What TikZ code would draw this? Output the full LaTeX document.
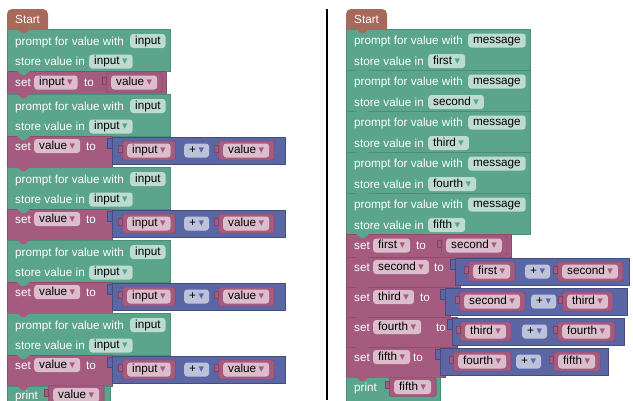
\documentclass[tikz,border=0pt]{standalone}
\usepackage{fontspec}
\setmainfont{Liberation Sans}
\newfontfamily\arrfont{DejaVu Sans}
\usepackage{tikz}
\definecolor{grn}{HTML}{5BA58C}
\definecolor{grnfld}{HTML}{BDDBD1}
\definecolor{mag}{HTML}{A55B80}
\definecolor{magfld}{HTML}{DBBDCC}
\definecolor{blu}{HTML}{5B67A5}
\definecolor{blufld}{HTML}{BDC2DB}
\definecolor{brn}{HTML}{A8685A}
\newcommand{\dd}[1]{\hspace{2.5pt}{\arrfont\fontsize{11}{11}\selectfont\color{#1}▾}}
\newcommand{\notch}[2]{\fill[#1] ([xshift=10pt]#2.north west) -- ++(5,4) -- ++(3,0) -- ++(5,-4) -- cycle;}
\newcommand{\vblock}[3]{\node[valblk=mag] (#1) at (#2) {\phantom{#3\dd{mag}}};
  \node[fld=magfld, anchor=center] (#1t) at (#1) {#3\dd{mag}};}
\tikzset{
  stmt/.style = {fill=#1, draw=#1!85!black, line width=0.4pt, anchor=north west, inner sep=0pt},
  txt/.style = {text=white, anchor=base west, inner sep=0pt},
  fld/.style = {fill=#1, rounded corners=3pt, text=black, inner xsep=5pt, inner ysep=0pt,
    minimum height=14pt, text height=8.5pt, text depth=2pt, anchor=west},
  valblk/.style = {fill=#1, draw=#1!75!black, rounded corners=2pt, inner xsep=10pt, inner ysep=0pt,
    minimum height=19pt, text height=8.5pt, text depth=2pt, anchor=west,
    label={[fill=#1, draw=#1!75!black, inner sep=0pt, minimum width=4pt, minimum height=7pt,
      xshift=0.3pt, yshift=2pt]west:{}}},
  sum/.style = {fill=blu, draw=blu!75!black, anchor=north west, inner sep=0pt, minimum height=27pt,
    label={[fill=blu, draw=blu!75!black, inner sep=0pt, minimum width=5pt, minimum height=10pt,
      xshift=0.3pt, yshift=7.5pt]west:{}}}
}
\begin{document}
\begin{tikzpicture}[x=1pt, y=-1pt, font=\fontsize{11.7pt}{14pt}\selectfont]
\path[use as bounding box, clip] (0,0) rectangle (633,400);

% left program
\fill[brn] (7,29) [rounded corners=5pt] -- (7,9) -- (48,9) [sharp corners] -- (48,29) -- cycle;
\node[txt] (start1) at (15,23) {Start};
\node[stmt=grn, minimum width=163pt, minimum height=42pt] (p1) at (7,29) {};
\notch{brn}{p1}
\node[txt] (p1a) at (15,45) {prompt for value with};
\node[fld=grnfld] (p1b) at (130,41) {input};
\node[txt] (p1c) at (15,65.5) {store value in};
\node[fld=grnfld] (p1d) at (89,61.5) {input\dd{grn}};
\node[stmt=mag, minimum width=159pt, minimum height=23pt] (s1) at (7,71) {};
\notch{grn}{s1}
\node[txt] (s1a) at (15,86.5) {set};
\node[fld=magfld] (s1b) at (34,82.5) {input\dd{mag}};
\node[txt] (s1c) at (84,86.5) {to};
\vblock{s1d}{106,82.5}{value}

\node[stmt=grn, minimum width=163pt, minimum height=42pt] (p2) at (7,94) {};
\notch{mag}{p2}
\node[txt] (p2a) at (15,110) {prompt for value with};
\node[fld=grnfld] (p2b) at (130,106) {input};
\node[txt] (p2c) at (15,130.5) {store value in};
\node[fld=grnfld] (p2d) at (89,126.5) {input\dd{grn}};
\node[stmt=mag, minimum width=105pt, minimum height=31pt] (s2) at (7,136) {};
\notch{grn}{s2}
\node[txt] (s2a) at (15,150) {set};
\node[fld=magfld] (s2b) at (34,146) {value\dd{mag}};
\node[txt] (s2c) at (86,150) {to};
\node[sum, minimum width=173pt] (s2d) at (112,137) {};
\vblock{s2e}{122,150.5}{input}
\node[fld=blufld] (s2f) at (184,150.5) {+\dd{blu}};
\vblock{s2g}{218,150.5}{value}

\node[stmt=grn, minimum width=163pt, minimum height=42pt] (p3) at (7,167) {};
\notch{mag}{p3}
\node[txt] (p3a) at (15,183) {prompt for value with};
\node[fld=grnfld] (p3b) at (130,179) {input};
\node[txt] (p3c) at (15,203.5) {store value in};
\node[fld=grnfld] (p3d) at (89,199.5) {input\dd{grn}};
\node[stmt=mag, minimum width=105pt, minimum height=31pt] (s3) at (7,209) {};
\notch{grn}{s3}
\node[txt] (s3a) at (15,223) {set};
\node[fld=magfld] (s3b) at (34,219) {value\dd{mag}};
\node[txt] (s3c) at (86,223) {to};
\node[sum, minimum width=173pt] (s3d) at (112,210) {};
\vblock{s3e}{122,223.5}{input}
\node[fld=blufld] (s3f) at (184,223.5) {+\dd{blu}};
\vblock{s3g}{218,223.5}{value}

\node[stmt=grn, minimum width=163pt, minimum height=42pt] (p4) at (7,240) {};
\notch{mag}{p4}
\node[txt] (p4a) at (15,256) {prompt for value with};
\node[fld=grnfld] (p4b) at (130,252) {input};
\node[txt] (p4c) at (15,276.5) {store value in};
\node[fld=grnfld] (p4d) at (89,272.5) {input\dd{grn}};
\node[stmt=mag, minimum width=105pt, minimum height=31pt] (s4) at (7,282) {};
\notch{grn}{s4}
\node[txt] (s4a) at (15,296) {set};
\node[fld=magfld] (s4b) at (34,292) {value\dd{mag}};
\node[txt] (s4c) at (86,296) {to};
\node[sum, minimum width=173pt] (s4d) at (112,283) {};
\vblock{s4e}{122,296.5}{input}
\node[fld=blufld] (s4f) at (184,296.5) {+\dd{blu}};
\vblock{s4g}{218,296.5}{value}

\node[stmt=grn, minimum width=163pt, minimum height=42pt] (p5) at (7,313) {};
\notch{mag}{p5}
\node[txt] (p5a) at (15,329) {prompt for value with};
\node[fld=grnfld] (p5b) at (130,325) {input};
\node[txt] (p5c) at (15,349.5) {store value in};
\node[fld=grnfld] (p5d) at (89,345.5) {input\dd{grn}};
\node[stmt=mag, minimum width=105pt, minimum height=31pt] (s5) at (7,355) {};
\notch{grn}{s5}
\node[txt] (s5a) at (15,369) {set};
\node[fld=magfld] (s5b) at (34,365) {value\dd{mag}};
\node[txt] (s5c) at (86,369) {to};
\node[sum, minimum width=173pt] (s5d) at (112,356) {};
\vblock{s5e}{122,369.5}{input}
\node[fld=blufld] (s5f) at (184,369.5) {+\dd{blu}};
\vblock{s5g}{218,369.5}{value}

\node[stmt=grn, minimum width=103pt, minimum height=30pt] (out1) at (7,386) {};
\notch{mag}{out1}
\node[txt] (out1a) at (15,399) {print};
\vblock{out1b}{48,395}{value}

% separator
\draw[line width=2pt] (327,9) -- (327,400);

% right program
\fill[brn] (346,29) [rounded corners=5pt] -- (346,9) -- (387,9) [sharp corners] -- (387,29) -- cycle;
\node[txt] (start2) at (354,23) {Start};
\node[stmt=grn, minimum width=184pt, minimum height=41pt] (q1) at (346,29) {};
\notch{brn}{q1}
\node[txt] (q1a) at (354,44.5) {prompt for value with};
\node[fld=grnfld] (q1b) at (468,40.5) {message};
\node[txt] (q1c) at (354,65) {store value in};
\node[fld=grnfld] (q1d) at (428,61) {first\dd{grn}};
\node[stmt=grn, minimum width=184pt, minimum height=41pt] (q2) at (346,70) {};
\notch{grn}{q2}
\node[txt] (q2a) at (354,85.5) {prompt for value with};
\node[fld=grnfld] (q2b) at (468,81.5) {message};
\node[txt] (q2c) at (354,106) {store value in};
\node[fld=grnfld] (q2d) at (428,102) {second\dd{grn}};
\node[stmt=grn, minimum width=184pt, minimum height=41pt] (q3) at (346,111) {};
\notch{grn}{q3}
\node[txt] (q3a) at (354,126.5) {prompt for value with};
\node[fld=grnfld] (q3b) at (468,122.5) {message};
\node[txt] (q3c) at (354,147) {store value in};
\node[fld=grnfld] (q3d) at (428,143) {third\dd{grn}};
\node[stmt=grn, minimum width=184pt, minimum height=41pt] (q4) at (346,152) {};
\notch{grn}{q4}
\node[txt] (q4a) at (354,167.5) {prompt for value with};
\node[fld=grnfld] (q4b) at (468,163.5) {message};
\node[txt] (q4c) at (354,188) {store value in};
\node[fld=grnfld] (q4d) at (428,184) {fourth\dd{grn}};
\node[stmt=grn, minimum width=184pt, minimum height=41pt] (q5) at (346,193) {};
\notch{grn}{q5}
\node[txt] (q5a) at (354,208.5) {prompt for value with};
\node[fld=grnfld] (q5b) at (468,204.5) {message};
\node[txt] (q5c) at (354,229) {store value in};
\node[fld=grnfld] (q5d) at (428,225) {fifth\dd{grn}};

\node[stmt=mag, minimum width=165pt, minimum height=23pt] (r1) at (346,234) {};
\notch{grn}{r1}
\node[txt] (r1a) at (354,249.5) {set};
\node[fld=magfld] (r1b) at (373,245.5) {first\dd{mag}};
\node[txt] (r1c) at (416,249.5) {to};
\vblock{r1d}{441,245.5}{second}

\node[stmt=mag, minimum width=114pt, minimum height=30pt] (r2) at (346,257) {};
\notch{mag}{r2}
\node[txt] (r2a) at (354,271) {set};
\node[fld=magfld] (r2b) at (373,267) {second\dd{mag}};
\node[txt] (r2c) at (434,271) {to};
\node[sum, minimum width=174pt] (r2d) at (455,258) {};
\vblock{r2e}{468,271.5}{first}
\node[fld=blufld] (r2f) at (525,271.5) {+\dd{blu}};
\vblock{r2g}{557,271.5}{second}

\node[stmt=mag, minimum width=104pt, minimum height=30pt] (r3) at (346,287) {};
\notch{mag}{r3}
\node[txt] (r3a) at (354,301) {set};
\node[fld=magfld] (r3b) at (373,297) {third\dd{mag}};
\node[txt] (r3c) at (420,301) {to};
\node[sum, minimum width=182pt] (r3d) at (445,288) {};
\vblock{r3e}{459,301.5}{second}
\node[fld=blufld] (r3f) at (531,301.5) {+\dd{blu}};
\vblock{r3g}{562,301.5}{third}

\node[stmt=mag, minimum width=111pt, minimum height=30pt] (r4) at (346,317) {};
\notch{mag}{r4}
\node[txt] (r4a) at (354,331) {set};
\node[fld=magfld] (r4b) at (373,327) {fourth\dd{mag}};
\node[txt] (r4c) at (436,331) {to};
\node[sum, minimum width=172pt] (r4d) at (452,318) {};
\vblock{r4e}{460,331.5}{third}
\node[fld=blufld] (r4f) at (522,331.5) {+\dd{blu}};
\vblock{r4g}{557,331.5}{fourth}

\node[stmt=mag, minimum width=99pt, minimum height=30pt] (r5) at (346,347) {};
\notch{mag}{r5}
\node[txt] (r5a) at (354,361) {set};
\node[fld=magfld] (r5b) at (373,357) {fifth\dd{mag}};
\node[txt] (r5c) at (413,361) {to};
\node[sum, minimum width=168pt] (r5d) at (440,348) {};
\vblock{r5e}{453,361.5}{fourth}
\node[fld=blufld] (r5f) at (516,361.5) {+\dd{blu}};
\vblock{r5g}{553,361.5}{fifth}

\node[stmt=grn, minimum width=94pt, minimum height=30pt] (out2) at (346,377) {};
\notch{mag}{out2}
\node[txt] (out2a) at (354,391) {print};
\vblock{out2b}{389,387}{fifth}
\end{tikzpicture}
\end{document}
